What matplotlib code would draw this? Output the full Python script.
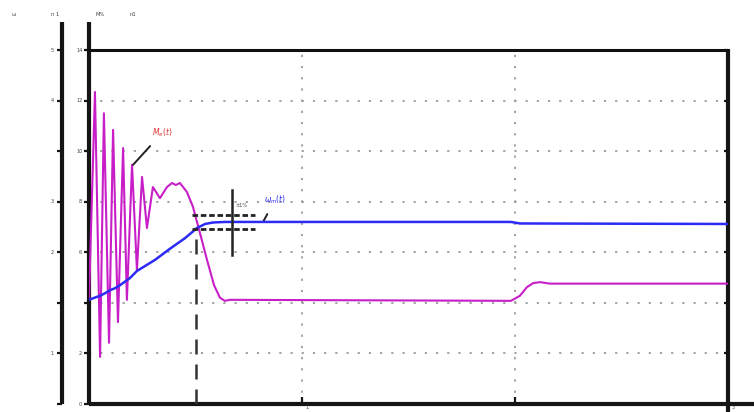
import matplotlib
matplotlib.use("Agg")
import matplotlib.pyplot as plt

# Motor start-up: electromagnetic torque and rotor speed versus time
t_torque = [0.000, 0.028, 0.052, 0.070, 0.094, 0.113, 0.136, 0.160, 0.178, 0.202,
            0.225, 0.249, 0.272, 0.300, 0.333, 0.366, 0.390, 0.408, 0.427, 0.460,
            0.488, 0.521, 0.554, 0.587, 0.615, 0.638, 0.662, 1.981, 2.023, 2.056,
            2.085, 2.117, 2.164, 3.000]
torque = [2.06, 6.17, 0.93, 5.75, 1.21, 5.42, 1.62, 5.06, 2.06, 4.73,
          2.65, 4.49, 3.48, 4.29, 4.07, 4.29, 4.37, 4.33, 4.37, 4.19,
          3.90, 3.38, 2.85, 2.35, 2.10, 2.04, 2.06, 2.04, 2.14, 2.31,
          2.39, 2.41, 2.38, 2.38]

t_speed = [0.000, 0.038, 0.052, 0.075, 0.099, 0.122, 0.146, 0.192, 0.225, 0.310,
           0.380, 0.451, 0.507, 0.545, 0.584, 0.640, 0.991, 1.981, 2.023, 3.000]
speed = [2.06, 2.12, 2.14, 2.19, 2.25, 2.29, 2.35, 2.49, 2.63, 2.85,
         3.07, 3.28, 3.48, 3.56, 3.59, 3.60, 3.60, 3.60, 3.57, 3.56]

# settling-time construction
settle_t = 0.502
band_lo, band_hi = 3.46, 3.74
band_t = (0.484, 0.779)
marker_t = 0.671
marker_y = (2.95, 4.23)

y_ticks = [0, 1, 2, 3, 4, 5, 6, 7]
y_labels = ["0", "2", "", "6", "8", "10", "12", "14"]
y_outer_labels = ["", "1", "", "2", "3", "", "4", "5"]
x_ticks = [0, 1, 2, 3]
x_labels = ["", "1", "", "3"]

W, H = 754, 412
fig = plt.figure(figsize=(W / 100, H / 100), dpi=100)
fig.patch.set_facecolor("white")
ax = fig.add_axes([89 / W, 8 / H, 639 / W, 354 / H])
ax.set_xlim(0, 3)
ax.set_ylim(0, 7)

for s in ["left", "right", "bottom"]:
    ax.spines[s].set_visible(False)
ax.spines["top"].set_linewidth(2.2)
ax.spines["top"].set_color("#111111")

ax.set_xticks(x_ticks)
ax.set_yticks(y_ticks)
ax.set_xticklabels([])
ax.set_yticklabels([])
ax.tick_params(axis="both", length=0)
ax.grid(True, color="#9a9a9a", linestyle=(0, (1.2, 5)), linewidth=1.3)

# frame lines drawn beyond the plotting box
kw = dict(transform=ax.transAxes, clip_on=False, color="#151515", solid_capstyle="butt")
ax.plot([0, 0], [0, 1.079], lw=3, **kw)
ax.plot([-0.0423, -0.0423], [0, 1.079], lw=3, **kw)
ax.plot([1, 1], [-0.0226, 1], lw=3, **kw)
ax.plot([0, 1.04], [0, 0], lw=3, **kw)

# tick marks
for v in y_ticks:
    f = v / 7
    ax.plot([-0.008, 0], [f, f], lw=1.6, **kw)
    ax.plot([-0.050, -0.0423], [f, f], lw=1.6, **kw)
    ax.plot([0.994, 1], [f, f], lw=1.6, **kw)
for v in x_ticks:
    ax.plot([v / 3, v / 3], [0, 0.02], lw=1.6, **kw)

# tick labels
lab = dict(transform=ax.transAxes, fontsize=3.6, color="#444444",
           ha="center", va="center", clip_on=False)
for v, s in zip(y_ticks, y_labels):
    ax.text(-0.014, v / 7, s, **lab)
for v, s in zip(y_ticks, y_outer_labels):
    ax.text(-0.058, v / 7, s, **lab)
for v, s in zip(x_ticks, x_labels):
    ax.text(v / 3 + 0.008, -0.0105, s, **lab)

ftxt = dict(fontsize=3.8, color="#444444", ha="center", va="center")
fig.text(14 / W, 1 - 14 / H, "ω", **ftxt)
fig.text(55 / W, 1 - 14 / H, "n 1", **ftxt)
fig.text(100 / W, 1 - 14 / H, "M%", **ftxt)
fig.text(133 / W, 1 - 14 / H, "n1", **ftxt)

# curves
ax.plot(t_torque, torque, color="#c81ec8", lw=1.5, zorder=3, solid_joinstyle="round")
ax.plot(t_speed, speed, color="#2b2bf5", lw=1.8, zorder=4)

# settling construction
ax.plot([settle_t, settle_t], [0, band_lo], color="#333333", lw=1.8,
        linestyle=(0, (6, 4)), zorder=5)
for yb in (band_lo, band_hi):
    ax.plot(list(band_t), [yb, yb], color="#222222", lw=2.0,
            linestyle=(0, (2, 1)), zorder=5)
ax.plot([marker_t, marker_t], list(marker_y), color="#222222", lw=1.8, zorder=5)
ax.text(0.69, 3.92, "±1%", fontsize=3.6, color="#444444", ha="left", va="center")

# curve labels
ax.annotate(r"$M_e(t)$", xy=(0.207, 4.73), xytext=(0.343, 5.36),
            fontsize=5.5, color="#e03030", ha="center", va="center",
            arrowprops=dict(arrowstyle="-", color="#222222", lw=1.4, shrinkA=4, shrinkB=0))
ax.annotate(r"$\omega_m(t)$", xy=(0.817, 3.60), xytext=(0.873, 4.03),
            fontsize=5.5, color="#2b2bf5", ha="center", va="center",
            arrowprops=dict(arrowstyle="-", color="#222222", lw=1.4, shrinkA=4, shrinkB=0))

fig.savefig("out.png", dpi=100, facecolor="white")
